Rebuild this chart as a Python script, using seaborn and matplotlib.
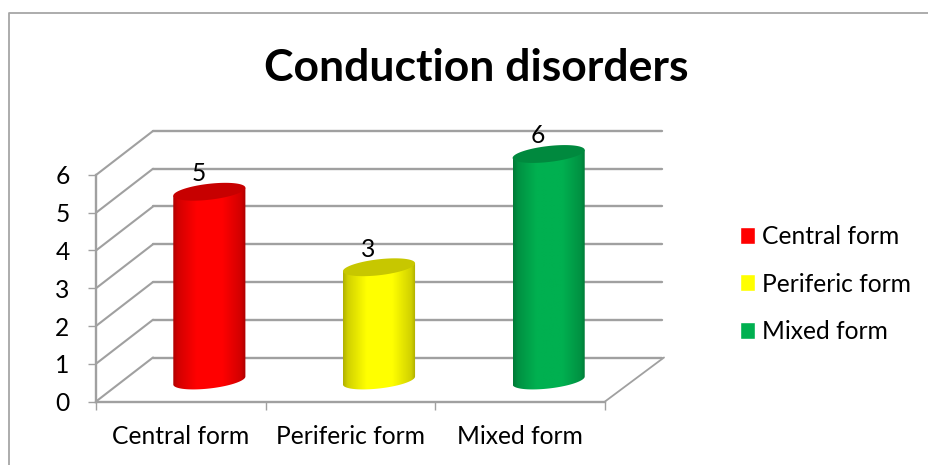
import numpy as np
import pandas as pd
import matplotlib
matplotlib.use('Agg')
import matplotlib.pyplot as plt
import seaborn as sns
from matplotlib.lines import Line2D
from matplotlib.patches import Polygon, Patch
from matplotlib.transforms import Affine2D, IdentityTransform

categories = ['Central form', 'Periferic form', 'Mixed form']
values = [5, 3, 6]
colors = ['#FF0000', '#FFFF00', '#00B050']
y_ticks = [0, 1, 2, 3, 4, 5, 6]

W, H = 929, 465
GRID = '#A0A0A0'

sns.set_theme(style='white')
plt.rcParams['font.family'] = ['Lato', 'DejaVu Sans']

fig = plt.figure(figsize=(W / 100, H / 100), dpi=100)
# axes box is the front plane of the fake 3D chart
ax = fig.add_axes([96 / W, 1 - 401.5 / H, 509 / W, 226.5 / H])

df = pd.DataFrame({'form': categories, 'count': values})
sns.barplot(data=df, x='form', y='count', hue='form', palette=colors, width=0.425,
            legend=False, ax=ax, zorder=3)
ax.set_xlim(-0.5, 2.5)
ax.set_ylim(0, 6)
ax.set_xlabel('')
ax.set_ylabel('')

# depth offset of the back wall in pixels
back = Affine2D().translate(57, 44)

# back wall and left wall gridlines
for v in y_ticks:
    ax.plot([-0.5, 2.5], [v, v], color=GRID, lw=1.7, clip_on=False, zorder=1,
            transform=ax.transData + back)
    p0 = ax.transData.transform((-0.5, v))
    ax.plot([p0[0], p0[0] + 57], [p0[1], p0[1] + 44], color=GRID, lw=1.5, clip_on=False,
            zorder=1, transform=IdentityTransform())
p1 = ax.transData.transform((2.5, 0))
ax.plot([p1[0], p1[0] + 59], [p1[1], p1[1] + 44], color=GRID, lw=1.3, clip_on=False,
        zorder=1, transform=IdentityTransform())

# axes
sns.despine(ax=ax, top=True, right=True)
for s in ['left', 'bottom']:
    ax.spines[s].set_color(GRID)
    ax.spines[s].set_linewidth(1.7)
ax.set_yticks(y_ticks)
ax.set_xticks([0, 1, 2])
ax.set_xticklabels(categories)
ax.set_xticks([-0.5, 0.5, 1.5, 2.5], minor=True)
ax.tick_params(axis='x', which='major', length=0, pad=17, labelsize=17.7, labelcolor='black')
ax.tick_params(axis='x', which='minor', length=6, width=1, color=GRID, bottom=True)
ax.tick_params(axis='y', length=6, width=1, color=GRID, left=True, pad=13, labelsize=17.7,
               labelcolor='black')

# turn the flat bars into cylinders
shade_x = [0, 0.06, 0.32, 0.68, 0.94, 1]
shade_y = [0.7, 0.82, 1, 1, 0.82, 0.68]
t = np.linspace(0, 2 * np.pi, 90)
for bar, color, val in zip(ax.patches[:3], colors, values):
    bar.set_visible(False)
    (x0, y0) = ax.transData.transform((bar.get_x(), 0)) + (28.5, 21)
    (x1, y1) = ax.transData.transform((bar.get_x() + bar.get_width(), val)) + (28.5, 21)
    cx = (x0 + x1) / 2
    a = (x1 - x0) / 2
    ex = a * np.cos(t)
    ey = 8 * np.sin(t) + 0.11 * a * np.cos(t)
    lower = t[t >= np.pi]
    lx = cx + a * np.cos(lower)
    ly = y0 + 8 * np.sin(lower) + 0.11 * a * np.cos(lower)
    body = np.column_stack([np.r_[lx, x1, x0], np.r_[ly, y1 + 0.11 * a, y1 - 0.11 * a]])
    rgb = np.array(matplotlib.colors.to_rgb(color))
    s = np.interp(np.linspace(0, 1, 72), shade_x, shade_y)
    grad = (s[:, None] * rgb)[None, :, :]
    im = ax.imshow(grad, aspect='auto', zorder=3, interpolation='bilinear',
                   extent=(x0, x1, y0 - 10, y1 + 10), transform=IdentityTransform())
    im.set_clip_box(fig.bbox)
    im.set_clip_path(Polygon(body, closed=True, transform=IdentityTransform()))
    ax.add_patch(Polygon(np.column_stack([cx + ex, y1 + ey]), closed=True, zorder=4, lw=0,
                         facecolor=rgb * 0.78, transform=IdentityTransform(), clip_on=False))
    ax.annotate(str(val), xy=(cx - 11, y1 + 18), xycoords=IdentityTransform(), ha='center',
                va='center', fontsize=17.7, color='black', zorder=5, annotation_clip=False)
ax.set_xlim(-0.5, 2.5)
ax.set_ylim(0, 6)

handles = [Patch(facecolor=c, label=l) for c, l in zip(colors, categories)]
fig.legend(handles=handles, loc='center left', bbox_to_anchor=(740 / W, 1 - 284 / H), frameon=False,
           fontsize=17.7, handlelength=0.61, handleheight=0.7, handletextpad=0.28,
           labelspacing=1.0, borderpad=0, borderaxespad=0, labelcolor='black')

fig.text(476 / W, 1 - 68 / H, 'Conduction disorders', ha='center', va='center', fontsize=32,
         fontweight='bold', color='black')

# chart border: only top and left edges are inside the image
fig.add_artist(Line2D([8.5 / W, 8.5 / W, 1], [0, 1 - 13 / H, 1 - 13 / H],
                      color='#A6A6A6', lw=1.3))

fig.savefig('out.png', dpi=100)
